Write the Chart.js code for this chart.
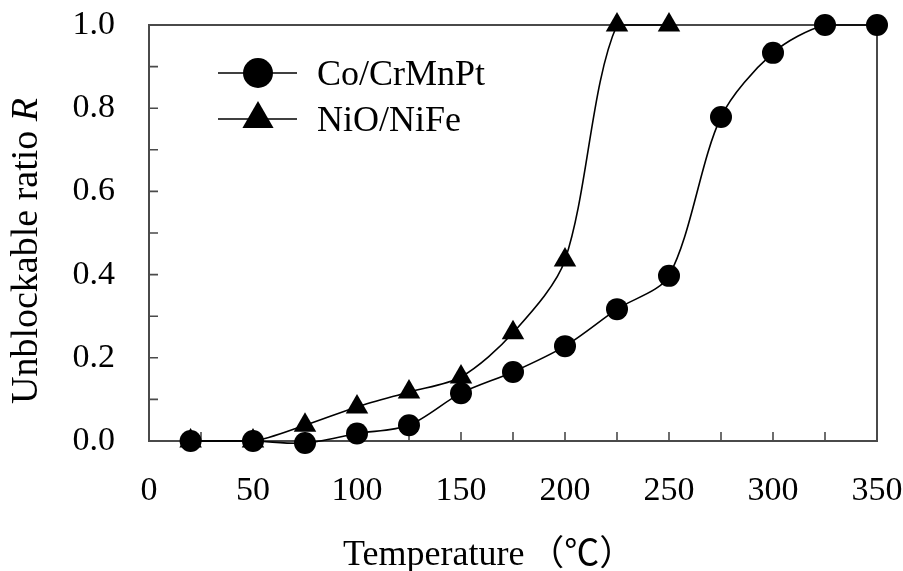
<!DOCTYPE html>
<html><head><meta charset="utf-8">
<script src="https://cdn.jsdelivr.net/npm/chart.js@4/dist/chart.umd.min.js"></script>
<style>html,body{margin:0;padding:0;background:#fff}#wrap{width:903px;height:571px}</style>
</head><body><div id="wrap"><canvas id="c" width="903" height="571"></canvas></div>
<script>
// ---- data ----
const seriesNames = ['Co/CrMnPt', 'NiO/NiFe'];
const tempCo  = [20, 50, 75, 100, 125, 150, 175, 200, 225, 250, 275, 300, 325, 350];
const ratioCo = [0, 0, -0.005, 0.018, 0.038, 0.115, 0.166, 0.228, 0.317, 0.397, 0.779, 0.933, 1.0, 1.0];
const tempNiO  = [20, 50, 75, 100, 125, 150, 175, 200, 225, 250];
const ratioNiO = [0, 0, 0.038, 0.082, 0.118, 0.154, 0.26, 0.435, 1.0, 1.0];
const xRange = [0, 350];
const xStep = 25, xLabelEvery = 50;
const yRange = [0, 1.0];
const yStep = 0.1;
const xTitleText = 'Temperature';
const xTitleUnit = '（℃）';
const yTitleText = 'Unblockable ratio ';
const yTitleSymbol = 'R';

const SERIF = '"Liberation Serif", "Times New Roman", serif';
const AXIS = '#4a4a4a';
const TARGET = { left: 149, top: 25, right: 877, bottom: 441 };

function pts(xs, ys) { return xs.map((x, i) => ({ x: x, y: ys[i] })); }

function drawMarker(ctx, style, r, x, y) {
  ctx.beginPath();
  if (style === 'circle') {
    ctx.arc(x, y, r, 0, Math.PI * 2);
  } else {
    let a = 0;
    for (let k = 0; k < 3; k++) {
      const px = x + Math.sin(a) * r, py = y - Math.cos(a) * r;
      if (k === 0) ctx.moveTo(px, py); else ctx.lineTo(px, py);
      a += 2 * Math.PI / 3;
    }
    ctx.closePath();
  }
  ctx.fill();
}

const frameAndTicks = {
  id: 'frameAndTicks',
  beforeDatasetsDraw(chart) {
    const { ctx, chartArea: a, scales } = chart;
    ctx.save();
    ctx.strokeStyle = AXIS;
    ctx.lineWidth = 2;
    ctx.strokeRect(a.left, a.top, a.right - a.left, a.bottom - a.top);
    ctx.lineWidth = 1.6;
    ctx.beginPath();
    const tl = 9;
    scales.x.ticks.forEach(t => {
      const px = scales.x.getPixelForValue(t.value);
      if (px <= a.left + 1 || px >= a.right - 1) return;
      ctx.moveTo(px, a.bottom); ctx.lineTo(px, a.bottom - tl);
    });
    scales.y.ticks.forEach(t => {
      const py = scales.y.getPixelForValue(t.value);
      if (py >= a.bottom - 1 || py <= a.top + 1) return;
      ctx.moveTo(a.left, py); ctx.lineTo(a.left + tl, py);
    });
    ctx.stroke();
    ctx.restore();
  }
};

const legendAndTitles = {
  id: 'legendAndTitles',
  afterDatasetsDraw(chart) {
    const { ctx, chartArea: a } = chart;
    ctx.save();
    // legend
    const legendRadius = { circle: 15, triangle: 18 };
    chart.data.datasets.forEach((ds, i) => {
      const cy = a.top + 48 + i * 46;
      ctx.strokeStyle = ds.borderColor;
      ctx.lineWidth = 1.6;
      ctx.beginPath();
      ctx.moveTo(a.left + 69, cy); ctx.lineTo(a.left + 148, cy);
      ctx.stroke();
      ctx.fillStyle = ds.backgroundColor;
      drawMarker(ctx, ds.pointStyle, legendRadius[ds.pointStyle], a.left + 109, cy);
      ctx.fillStyle = '#000';
      ctx.font = '36px ' + SERIF;
      ctx.textAlign = 'left';
      ctx.textBaseline = 'alphabetic';
      ctx.fillText(ds.label, a.left + 168, cy + 12);
    });
    // x title
    ctx.fillStyle = '#000';
    ctx.font = '36px ' + SERIF;
    ctx.textAlign = 'left';
    ctx.textBaseline = 'alphabetic';
    const xl = a.left + 194, xb = 565;
    ctx.fillText(xTitleText, xl, xb);
    const w0 = ctx.measureText(xTitleText).width;
    ctx.font = '35px "Noto Sans CJK SC", ' + SERIF;
    ctx.fillText(xTitleUnit, xl + w0 + 5, xb);
    // y title
    ctx.save();
    ctx.translate(37, 251);
    ctx.rotate(-Math.PI / 2);
    ctx.font = '38px ' + SERIF;
    const w1 = ctx.measureText(yTitleText).width;
    ctx.font = 'italic 38px ' + SERIF;
    const w2 = ctx.measureText(yTitleSymbol).width;
    const start = -(w1 + w2) / 2;
    ctx.font = '38px ' + SERIF;
    ctx.fillText(yTitleText, start, 0);
    ctx.font = 'italic 38px ' + SERIF;
    ctx.fillText(yTitleSymbol, start + w1, 0);
    ctx.restore();
    ctx.restore();
  }
};

const chart = new Chart(document.getElementById('c'), {
  type: 'scatter',
  data: {
    datasets: [
      {
        label: seriesNames[0], data: pts(tempCo, ratioCo), showLine: true,
        borderColor: '#000', backgroundColor: '#000', borderWidth: 1.6,
        pointStyle: 'circle', pointRadius: 11, pointBorderWidth: 0, pointHoverRadius: 11,
        tension: 0.3, clip: false
      },
      {
        label: seriesNames[1], data: pts(tempNiO, ratioNiO), showLine: true,
        borderColor: '#000', backgroundColor: '#000', borderWidth: 1.6,
        pointStyle: 'triangle', pointRadius: 13, pointBorderWidth: 0, pointHoverRadius: 13,
        tension: 0.3, clip: false
      }
    ]
  },
  options: {
    responsive: false, animation: false, devicePixelRatio: 1,
    layout: { padding: { left: 0, right: 26, top: 25, bottom: 0 } },
    plugins: { legend: { display: false }, tooltip: { enabled: false } },
    scales: {
      x: {
        type: 'linear', min: xRange[0], max: xRange[1],
        grid: { display: false, drawTicks: true, tickLength: 30 }, border: { display: false },
        ticks: {
          stepSize: xStep, autoSkip: false, maxRotation: 0, padding: 0, color: '#000',
          font: { family: SERIF, size: 34 },
          callback: v => (v % xLabelEvery === 0 ? String(v) : '')
        },
        afterFit: s => { s.height = 130; }
      },
      y: {
        type: 'linear', min: yRange[0], max: yRange[1],
        grid: { display: false, drawTicks: true, tickLength: 34 }, border: { display: false },
        ticks: {
          stepSize: yStep, autoSkip: false, padding: 0, color: '#000',
          font: { family: SERIF, size: 34 },
          callback: v => (Math.round(v * 10) % 2 === 0 ? v.toFixed(1) : '')
        },
        afterFit: s => { s.width = 149; }
      }
    }
  },
  plugins: [frameAndTicks, legendAndTitles]
});

// nudge layout padding so the plot area lands where it is in the reference
for (let k = 0; k < 3; k++) {
  const a = chart.chartArea, p = chart.options.layout.padding;
  const dt = TARGET.top - a.top, dr = a.right - TARGET.right;
  if (Math.abs(dt) < 0.5 && Math.abs(dr) < 0.5) break;
  p.top += dt;
  p.right += dr;
  chart.update();
}
</script>
</body></html>
